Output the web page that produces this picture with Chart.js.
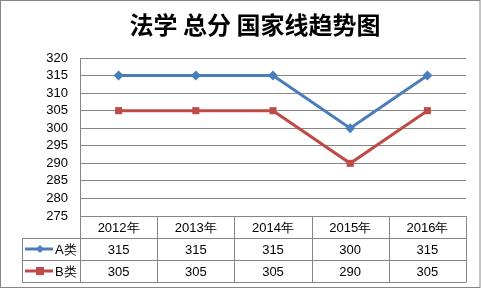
<!DOCTYPE html>
<html>
<head>
<meta charset="utf-8">
<script src="https://cdn.jsdelivr.net/npm/chart.js@4/dist/chart.umd.min.js"></script>
<style>
  html, body { margin: 0; padding: 0; background: #fff; }
  #wrap { width: 481px; height: 289px; position: relative; }
</style>
</head>
<body>
<div id="wrap"><canvas id="chart" width="481" height="289"></canvas></div>
<script>
// 数据
const titleText = '法学 总分 国家线趋势图';
const years = ['2012年', '2013年', '2014年', '2015年', '2016年'];
const seriesNames = ['A类', 'B类'];
const scoresA = [315, 315, 315, 300, 315];
const scoresB = [305, 305, 305, 290, 305];
const yTicks = [275, 280, 285, 290, 295, 300, 305, 310, 315, 320];

const blue = '#4A7EBB';
const red = '#BE4B48';
const gridGray = '#868686';
const tableFont = '13px "Liberation Sans", Arial, sans-serif';

// titulo + tabela de dados embaixo do grafico
const tablePlugin = {
    id: 'tabela',
    beforeDraw(chart) {
        const ctx = chart.ctx;
        ctx.save();
        ctx.fillStyle = '#fff';
        ctx.fillRect(0, 0, chart.width, chart.height);
        ctx.restore();
    },
    afterDraw(chart) {
        const ctx = chart.ctx;
        const area = chart.chartArea;
        const x = chart.scales.x;
        const n = years.length;
        const colW = (area.right - area.left) / n;
        const rowH = 22;
        const top = area.bottom;
        const legendLeft = 22.5;

        ctx.save();
        // borda externa
        ctx.strokeStyle = gridGray;
        ctx.lineWidth = 1;
        ctx.strokeRect(0.5, 0.5, chart.width - 1.5, chart.height - 2);

        // titulo
        ctx.fillStyle = '#000';
        ctx.font = 'bold 24px "Noto Sans CJK SC", sans-serif';
        ctx.textAlign = 'center';
        ctx.textBaseline = 'middle';
        ctx.fillText(titleText, 255, 25);

        // linhas da tabela
        ctx.beginPath();
        const L = Math.round(area.left) + 0.5;
        const R = Math.round(area.right) + 0.5;
        ctx.moveTo(L, area.top);
        ctx.lineTo(L, top + rowH * 3);
        for (let i = 1; i <= n; i++) {
            const cx = Math.round(area.left + colW * i) + 0.5;
            ctx.moveTo(cx, top);
            ctx.lineTo(cx, top + rowH * 3);
        }
        for (let r = 0; r <= 3; r++) {
            const y = Math.round(top + rowH * r) + 0.5;
            ctx.moveTo(r === 0 ? L : legendLeft, y);
            ctx.lineTo(R, y);
        }
        ctx.moveTo(legendLeft, Math.round(top + rowH) + 0.5);
        ctx.lineTo(legendLeft, Math.round(top + rowH * 3) + 0.5);
        ctx.stroke();

        // textos
        ctx.font = tableFont;
        ctx.fillStyle = '#000';
        ctx.textAlign = 'center';
        years.forEach((y, i) => {
            const cx = x.getPixelForValue(i);
            ctx.fillText(y, cx, top + rowH * 0.5 + 1);
        });
        chart.data.datasets.forEach((ds, r) => {
            const cy = top + rowH * (r + 1.5) + 1;
            ds.data.forEach((v, i) => {
                ctx.fillText(String(v), x.getPixelForValue(i), cy);
            });
            // legenda
            const my = Math.round(cy - 1);
            ctx.strokeStyle = ds.borderColor;
            ctx.lineWidth = 3;
            ctx.beginPath();
            ctx.moveTo(25, my);
            ctx.lineTo(53, my);
            ctx.stroke();
            ctx.fillStyle = ds.borderColor;
            if (ds.pointStyle === 'rectRot') {
                ctx.beginPath();
                ctx.moveTo(40, my - 4);
                ctx.lineTo(44, my);
                ctx.lineTo(40, my + 4);
                ctx.lineTo(36, my);
                ctx.closePath();
                ctx.fill();
            } else {
                ctx.fillRect(36, my - 4, 8, 8);
            }
            ctx.fillStyle = '#000';
            ctx.textAlign = 'left';
            ctx.fillText(ds.label, 55, cy);
            ctx.textAlign = 'center';
        });
        ctx.restore();
    }
};

document.addEventListener('DOMContentLoaded', () => {
    new Chart(document.getElementById('chart'), {
        type: 'line',
        data: {
            labels: years,
            datasets: [{
                label: seriesNames[0],
                data: scoresA,
                borderColor: blue,
                backgroundColor: blue,
                borderWidth: 3,
                pointStyle: 'rectRot',
                pointRadius: 5,
                pointBorderWidth: 0,
                tension: 0
            }, {
                label: seriesNames[1],
                data: scoresB,
                borderColor: red,
                backgroundColor: red,
                borderWidth: 3,
                pointStyle: 'rect',
                pointRadius: 5,
                pointBorderWidth: 0,
                tension: 0
            }]
        },
        options: {
            responsive: false,
            animation: false,
            devicePixelRatio: 1,
            layout: { padding: { top: 58, right: 15, bottom: 73, left: 0 } },
            plugins: {
                legend: { display: false },
                tooltip: { enabled: false },
                title: { display: false }
            },
            scales: {
                x: {
                    display: false,
                    offset: true
                },
                y: {
                    min: 275,
                    max: 320,
                    afterBuildTicks: (s) => { s.ticks = yTicks.map(v => ({ value: v })); },
                    afterFit: (s) => { s.width = 80; },
                    border: { display: false },
                    grid: { color: gridGray, lineWidth: 1, drawTicks: false },
                    ticks: {
                        autoSkip: false,
                        padding: 12,
                        color: '#000',
                        font: { family: '"Liberation Sans", Arial, sans-serif', size: 13 }
                    }
                }
            }
        },
        plugins: [tablePlugin]
    });
});
</script>
</body>
</html>
